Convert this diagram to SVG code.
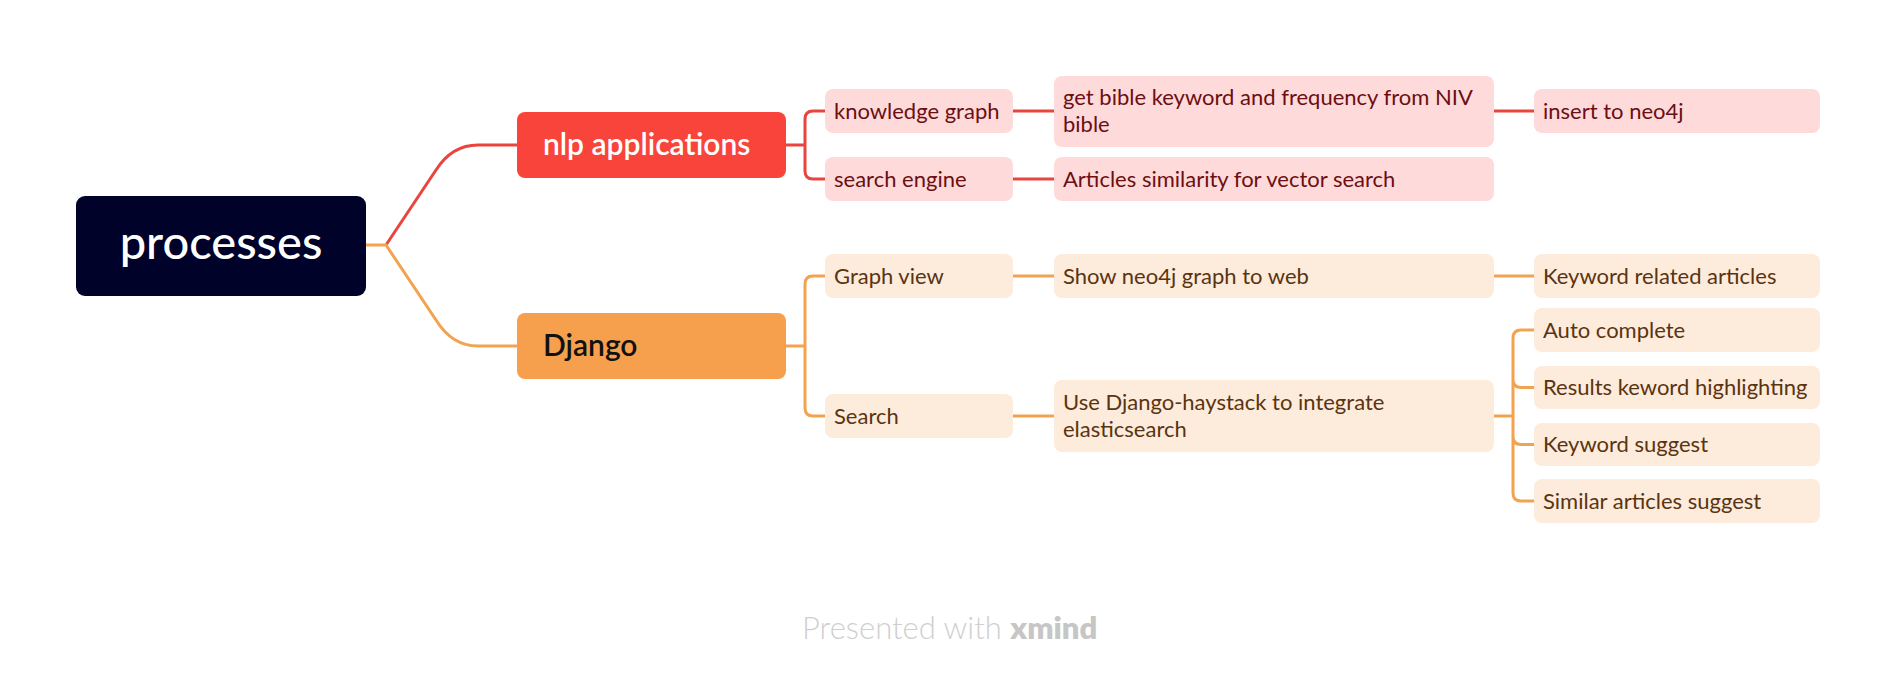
<svg xmlns="http://www.w3.org/2000/svg" width="1896" height="698" viewBox="0 0 1896 698">
<style>
text{font-family:Lato,"Open Sans","DejaVu Sans",sans-serif}
.red{fill:none;stroke:#E8453F;stroke-width:3}
.org{fill:none;stroke:#F3A250;stroke-width:3}
.rb{fill:#FFDADA}
.ob{fill:#FDEBDC}
.rt{fill:#6B0F12;font-size:22px}
.ot{fill:#5A3410;font-size:22px}
</style>
<rect width="1896" height="698" fill="#ffffff"/>
<g id="connectors">
<path class="red" d="M386,245 L436,170 Q452,145 478,145 L518,145"/>
<path class="org" d="M366,245 L386,245 L436,320 Q452,346 478,346 L518,346"/>
<path class="red" d="M786,145 H805 M825,111 H813 Q805,111 805,119 V171 Q805,179 813,179 H825"/>
<path class="red" d="M1013,111 H1054 M1013,179 H1054 M1494,111 H1534"/>
<path class="org" d="M786,346 H805 M825,276 H813 Q805,276 805,284 V408 Q805,416 813,416 H825"/>
<path class="org" d="M1013,276 H1054 M1013,416 H1054 M1494,276 H1534"/>
<path class="org" d="M1494,416 H1513 M1534,330 H1521 Q1513,330 1513,338 V493 Q1513,501 1521,501 H1534 M1513,379.5 Q1513,387.5 1521,387.5 H1534 M1513,436.5 Q1513,444.5 1521,444.5 H1534"/>
</g>
<g id="root">
<rect x="76" y="196" width="290" height="100" rx="9" fill="#000229"/>
<text x="221" y="259" text-anchor="middle" font-size="47" font-weight="500" fill="#ffffff">processes</text>
</g>
<g id="nlp">
<rect x="517" y="112" width="269" height="66" rx="8" fill="#F9443C"/>
<text x="543" y="155" font-size="30" font-weight="600" fill="#ffffff">nlp applications</text>
</g>
<g id="django">
<rect x="517" y="313" width="269" height="66" rx="8" fill="#F6A04D"/>
<text x="543" y="356" font-size="30" font-weight="600" fill="#111111">Django</text>
</g>
<g id="kg">
<rect class="rb" x="825" y="89" width="188" height="44" rx="8"/>
<text class="rt" x="834" y="119">knowledge graph</text>
</g>
<g id="se">
<rect class="rb" x="825" y="157" width="188" height="44" rx="8"/>
<text class="rt" x="834" y="187">search engine</text>
</g>
<g id="bible">
<rect class="rb" x="1054" y="76" width="440" height="71" rx="8"/>
<text class="rt" x="1063" y="105">get bible keyword and frequency from NIV</text>
<text class="rt" x="1063" y="132">bible</text>
</g>
<g id="articles">
<rect class="rb" x="1054" y="157" width="440" height="44" rx="8"/>
<text class="rt" x="1063" y="187">Articles similarity for vector search</text>
</g>
<g id="neo4j">
<rect class="rb" x="1534" y="89" width="286" height="44" rx="8"/>
<text class="rt" x="1543" y="119">insert to neo4j</text>
</g>
<g id="graphview">
<rect class="ob" x="825" y="254" width="188" height="44" rx="8"/>
<text class="ot" x="834" y="284">Graph view</text>
</g>
<g id="search">
<rect class="ob" x="825" y="394" width="188" height="44" rx="8"/>
<text class="ot" x="834" y="424">Search</text>
</g>
<g id="showneo4j">
<rect class="ob" x="1054" y="254" width="440" height="44" rx="8"/>
<text class="ot" x="1063" y="284">Show neo4j graph to web</text>
</g>
<g id="haystack">
<rect class="ob" x="1054" y="380" width="440" height="72" rx="8"/>
<text class="ot" x="1063" y="410">Use Django-haystack to integrate</text>
<text class="ot" x="1063" y="437">elasticsearch</text>
</g>
<g id="kra">
<rect class="ob" x="1534" y="254" width="286" height="44" rx="8"/>
<text class="ot" x="1543" y="284">Keyword related articles</text>
</g>
<g id="auto">
<rect class="ob" x="1534" y="308" width="286" height="44" rx="8"/>
<text class="ot" x="1543" y="338">Auto complete</text>
</g>
<g id="results">
<rect class="ob" x="1534" y="366" width="286" height="43" rx="8"/>
<text class="ot" x="1543" y="395">Results keword highlighting</text>
</g>
<g id="ksuggest">
<rect class="ob" x="1534" y="423" width="286" height="43" rx="8"/>
<text class="ot" x="1543" y="452">Keyword suggest</text>
</g>
<g id="similar">
<rect class="ob" x="1534" y="479" width="286" height="44" rx="8"/>
<text class="ot" x="1543" y="509">Similar articles suggest</text>
</g>
<g id="footer">
<text x="802" y="639" font-size="31" font-weight="300" fill="#CFCFCF">Presented with <tspan font-weight="800" fill="#C6C6C6">xmind</tspan></text>
</g>
</svg>
